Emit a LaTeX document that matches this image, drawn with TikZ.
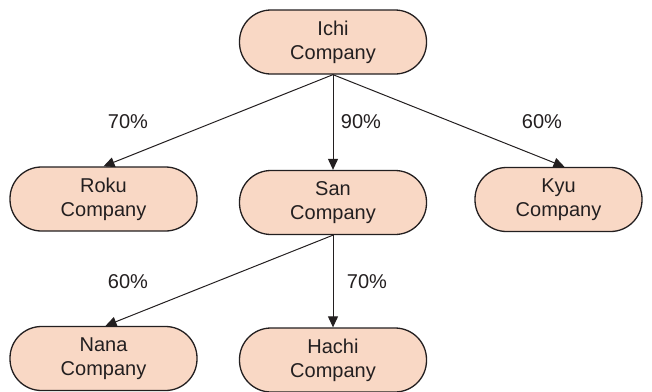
\documentclass[tikz,border=0pt]{standalone}
\usepackage{fontspec}
\setmainfont{Liberation Sans}
\usetikzlibrary{arrows.meta}
\definecolor{peach}{HTML}{F9D8C5}
\definecolor{ink}{HTML}{231F20}
\begin{document}
\begin{tikzpicture}[x=1pt,y=1pt,
  company/.style={draw=ink,line width=1.3pt,fill=peach,rounded corners=31.5pt,
    minimum width=187pt,minimum height=64pt,inner sep=0pt,align=center,
    font=\fontsize{20}{24}\selectfont,text=ink},
  pct/.style={font=\fontsize{20}{24}\selectfont,text=ink,inner sep=0pt},
  link/.style={draw=ink,line width=1pt,-{Triangle[length=11pt,width=10pt]}}]
\useasboundingbox (0,0) rectangle (652,-391);
\node[company] (ichi) at (333,-42) {Ichi\\Company};
\node[company] (roku) at (103.5,-199) {Roku\\Company};
\node[company] (san) at (333,-202.5) {San\\Company};
\node[company,minimum width=167pt] (kyu) at (558.5,-199.5) {Kyu\\Company};
\node[company] (nana) at (103.5,-358.5) {Nana\\Company};
\node[company] (hachi) at (333,-360) {Hachi\\Company};
\node[pct] (p1) at (128,-122) {70\%};
\node[pct] (p2) at (361,-122) {90\%};
\node[pct] (p3) at (542,-122) {60\%};
\node[pct] (p4) at (128,-282) {60\%};
\node[pct] (p5) at (367,-282) {70\%};
\draw[link] (ichi.south) -- (roku.north);
\draw[link] (ichi.south) -- (san.north);
\draw[link] (ichi.south) -- ([xshift=6pt]kyu.north);
\draw[link] (san.south) -- ([xshift=2pt]nana.north);
\draw[link] (san.south) -- (hachi.north);
\end{tikzpicture}
\end{document}
